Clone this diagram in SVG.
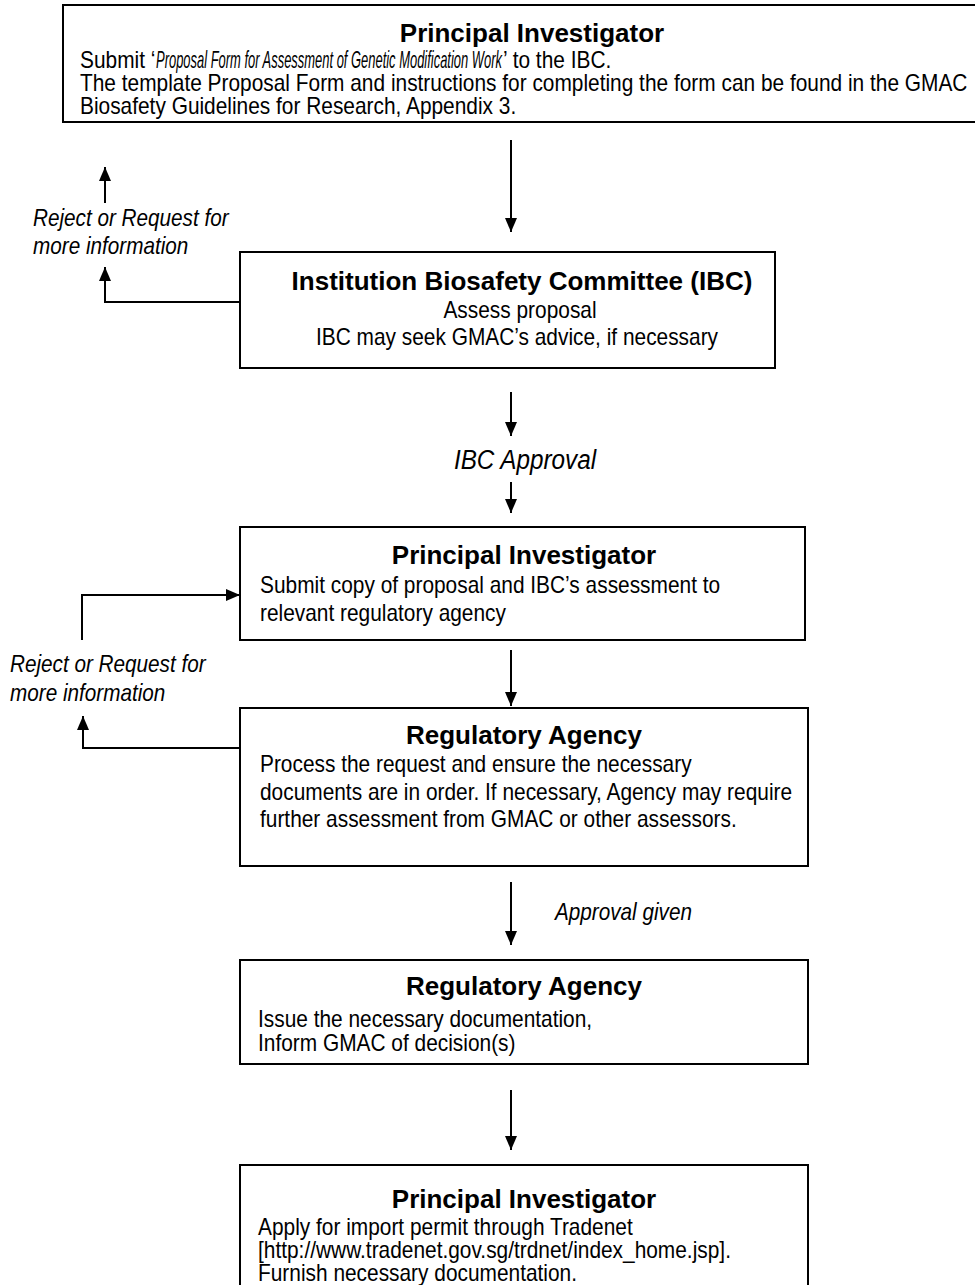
<svg xmlns="http://www.w3.org/2000/svg" width="975" height="1285" viewBox="0 0 975 1285">
<style>
.box{fill:#fff;stroke:#000;stroke-width:2}
.t{font-family:"Liberation Sans",Arial,sans-serif;font-weight:bold;font-size:26px;fill:#000;text-anchor:middle}
.b{font-family:"Liberation Sans",Arial,sans-serif;font-size:23px;fill:#000}
.c{text-anchor:middle}
.i{font-style:italic}
.big{font-size:27px}
.ln{fill:none;stroke:#000;stroke-width:2}
</style>
<defs>
<marker id="ah" viewBox="0 0 14 12" refX="14" refY="6" markerWidth="14" markerHeight="12" markerUnits="userSpaceOnUse" orient="auto">
<path d="M0,0 L14,6 L0,12 Z" fill="#000"/>
</marker>
</defs>
<rect width="975" height="1285" fill="#fff"/>

<g id="connectors">
<path class="ln" d="M511,140 V232" marker-end="url(#ah)"/>
<path class="ln" d="M105,203 V167" marker-end="url(#ah)"/>
<path class="ln" d="M240,302 H105 V267" marker-end="url(#ah)"/>
<path class="ln" d="M511,392 V436" marker-end="url(#ah)"/>
<path class="ln" d="M511,482 V513" marker-end="url(#ah)"/>
<path class="ln" d="M82,640 V595 H240" marker-end="url(#ah)"/>
<path class="ln" d="M511,650 V706" marker-end="url(#ah)"/>
<path class="ln" d="M240,748 H83 V716" marker-end="url(#ah)"/>
<path class="ln" d="M511,882 V945" marker-end="url(#ah)"/>
<path class="ln" d="M511,1090 V1150" marker-end="url(#ah)"/>
<text class="b i" transform="translate(33 226) scale(0.9 1)">Reject or Request for</text>
<text class="b i" transform="translate(33 254) scale(0.9 1)">more information</text>
<text class="b i c big" transform="translate(525 469) scale(0.9 1)">IBC Approval</text>
<text class="b i" transform="translate(10 672) scale(0.9 1)">Reject or Request for</text>
<text class="b i" transform="translate(10 701) scale(0.9 1)">more information</text>
<text class="b i" transform="translate(555 920) scale(0.9 1)">Approval given</text>
</g>

<g id="pi1">
<rect class="box" x="63" y="5" width="940" height="117"/>
<text class="t" x="532" y="42">Principal Investigator</text>
<text class="b" transform="translate(80 68) scale(0.908 1)">Submit ‘</text>
<text class="b i" transform="translate(156 68) scale(0.908 1)" textLength="381" lengthAdjust="spacingAndGlyphs">Proposal Form for Assessment of Genetic Modification Work</text>
<text class="b" transform="translate(503 68) scale(0.908 1)">’ to the IBC.</text>
<text class="b" transform="translate(80 91) scale(0.908 1)">The template Proposal Form and instructions for completing the form can be found in the GMAC</text>
<text class="b" transform="translate(80 114) scale(0.908 1)">Biosafety Guidelines for Research, Appendix 3.</text>
</g>

<g id="ibc">
<rect class="box" x="240" y="252" width="535" height="116"/>
<text class="t" x="522" y="290">Institution Biosafety Committee (IBC)</text>
<text class="b c" transform="translate(520 318) scale(0.908 1)">Assess proposal</text>
<text class="b c" transform="translate(517 345) scale(0.908 1)">IBC may seek GMAC’s advice, if necessary</text>
</g>

<g id="pi2">
<rect class="box" x="240" y="527" width="565" height="113"/>
<text class="t" x="524" y="564">Principal Investigator</text>
<text class="b" transform="translate(260 593) scale(0.908 1)">Submit copy of proposal and IBC’s assessment to</text>
<text class="b" transform="translate(260 621) scale(0.908 1)">relevant regulatory agency</text>
</g>

<g id="ra1">
<rect class="box" x="240" y="708" width="568" height="158"/>
<text class="t" x="524" y="744">Regulatory Agency</text>
<text class="b" transform="translate(260 772) scale(0.908 1)">Process the request and ensure the necessary</text>
<text class="b" transform="translate(260 800) scale(0.908 1)">documents are in order. If necessary, Agency may require</text>
<text class="b" transform="translate(260 827) scale(0.908 1)">further assessment from GMAC or other assessors.</text>
</g>

<g id="ra2">
<rect class="box" x="240" y="960" width="568" height="104"/>
<text class="t" x="524" y="995">Regulatory Agency</text>
<text class="b" transform="translate(258 1027) scale(0.908 1)">Issue the necessary documentation,</text>
<text class="b" transform="translate(258 1051) scale(0.908 1)">Inform GMAC of decision(s)</text>
</g>

<g id="pi3">
<rect class="box" x="240" y="1165" width="568" height="140"/>
<text class="t" x="524" y="1208">Principal Investigator</text>
<text class="b" transform="translate(258 1235) scale(0.908 1)">Apply for import permit through Tradenet</text>
<text class="b" transform="translate(258 1258) scale(0.908 1)">[http://www.tradenet.gov.sg/trdnet/index_home.jsp].</text>
<text class="b" transform="translate(258 1281) scale(0.908 1)">Furnish necessary documentation.</text>
</g>
</svg>
